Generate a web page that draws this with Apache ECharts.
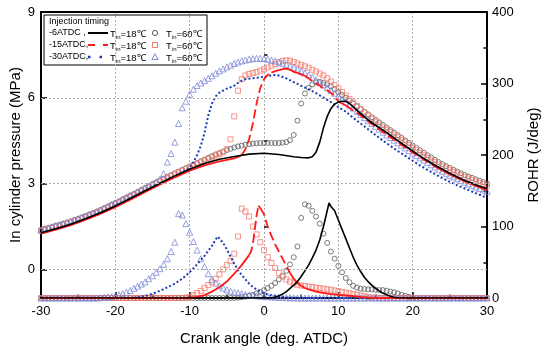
<!DOCTYPE html>
<html><head><meta charset="utf-8">
<script src="https://cdn.jsdelivr.net/npm/echarts@6/dist/echarts.min.js"></script>
<style>html,body{margin:0;padding:0;background:#fff}#c{width:541px;height:351px}</style>
</head><body><div id="c"></div><script>
// ---------- data ----------
const xTicks = [-30, -20, -10, 0, 10, 20, 30];
const pTicks = [0, 3, 6, 9];
const pMinorTicks = [1.5, 4.5, 7.5];
const legendTimings = ['-6ATDC ,', '-15ATDC,', '-30ATDC,'];
const legendT18 = '{a|T}{s|in}{a|=18℃}';
const legendT60 = '{a|T}{s|in}{a|=60℃}';

// marker series sampled every 0.5 deg from -30 to 30 (Tin = 60 C)
const markerAngles = [];
for (let i = 0; i <= 120; i++) markerAngles.push(-30 + i * 0.5);

const pCircle = [
1.38,1.42,1.45,1.49,1.53,1.56,1.6,1.64,1.68,1.73,
1.77,1.82,1.87,1.92,1.97,2.02,2.08,2.14,2.2,2.26,
2.32,2.38,2.45,2.51,2.58,2.64,2.71,2.78,2.84,2.91,
2.98,3.04,3.11,3.17,3.24,3.3,3.36,3.42,3.48,3.54,
3.6,3.66,3.72,3.78,3.84,3.9,3.96,4.02,4.07,4.12,
4.17,4.22,4.26,4.3,4.33,4.36,4.38,4.4,4.41,4.42,
4.42,4.42,4.42,4.42,4.42,4.43,4.45,4.52,4.7,5.2,
5.8,6.15,6.35,6.47,6.54,6.56,6.52,6.47,6.4,6.3,
6.2,6.1,6.0,5.9,5.8,5.7,5.6,5.51,5.42,5.32,
5.23,5.14,5.05,4.96,4.87,4.78,4.69,4.6,4.51,4.42,
4.33,4.25,4.16,4.08,3.99,3.91,3.83,3.75,3.68,3.61,
3.55,3.48,3.42,3.36,3.3,3.25,3.2,3.15,3.1,3.05,
3.0];
const pSquare = [
1.34,1.38,1.41,1.45,1.49,1.52,1.56,1.6,1.64,1.69,
1.73,1.78,1.83,1.88,1.93,1.98,2.04,2.1,2.16,2.22,
2.28,2.34,2.41,2.47,2.54,2.6,2.67,2.74,2.8,2.87,
2.94,3.0,3.07,3.13,3.2,3.26,3.32,3.38,3.44,3.5,
3.56,3.62,3.68,3.74,3.8,3.86,3.92,3.98,4.03,4.09,
4.2,4.55,5.35,6.25,6.65,6.78,6.83,6.87,6.9,6.95,
7.0,7.06,7.12,7.18,7.24,7.29,7.31,7.3,7.25,7.2,
7.15,7.1,7.05,6.98,6.92,6.85,6.78,6.68,6.57,6.45,
6.33,6.2,6.08,5.96,5.84,5.72,5.61,5.49,5.38,5.27,
5.16,5.06,4.97,4.88,4.8,4.71,4.62,4.53,4.44,4.35,
4.26,4.17,4.08,3.99,3.9,3.82,3.75,3.67,3.6,3.53,
3.47,3.41,3.35,3.29,3.23,3.18,3.13,3.08,3.03,2.98,
2.93];
const pTriangle = [
1.38,1.42,1.45,1.49,1.53,1.56,1.6,1.64,1.68,1.73,
1.77,1.82,1.87,1.92,1.97,2.02,2.08,2.14,2.2,2.26,
2.32,2.38,2.45,2.51,2.58,2.64,2.71,2.78,2.85,2.92,
2.99,3.06,3.15,3.35,3.75,4.05,4.45,5.1,5.65,5.88,
6.12,6.3,6.43,6.52,6.6,6.68,6.77,6.86,6.94,7.01,
7.08,7.14,7.2,7.25,7.29,7.32,7.35,7.37,7.38,7.38,
7.37,7.35,7.32,7.29,7.25,7.21,7.16,7.11,7.06,7.0,
6.94,6.87,6.8,6.72,6.63,6.54,6.45,6.36,6.26,6.16,
6.05,5.95,5.85,5.75,5.64,5.53,5.42,5.31,5.2,5.1,
5.0,4.9,4.8,4.7,4.61,4.52,4.43,4.34,4.25,4.16,
4.07,3.98,3.9,3.82,3.74,3.66,3.58,3.5,3.43,3.36,
3.29,3.23,3.17,3.11,3.05,2.99,2.94,2.88,2.83,2.78,
2.73];
const rCircle = [
0,0,0,0,0,0,0,0,0,0,
0,0,0,0,0,0,0,0,0,0,
0,0,0,0,0,0,0,0,0,0,
0,0,0,0,0,0,0,0,0,0,
0,0,0,0,0,0,0,0,0,0,
0,0,0,0.5,1,2,3,4.5,6.5,8.5,
11,14,17,21,26,31,38,47,57,72,
112,131,129,122,114,104,90,77,65,55,
45,36,28,22,17,14.5,13,12.5,12,12,
11.5,11,11,10,9,8,6.5,4.5,3,1.5,
0.5,0,0,0,0,0,0,0,0,0,
0,0,0,0,0,0,0,0,0,0,
0];
const rSquare = [
0,0,0,0,0,0,0,0,0,0,
0,0,0,0,0,0,0,0,0,0,
0,0,0,0,0,0,0,0,0,0,
0,0,0,0,0,0,0,0,0,0.5,
1.5,4,7,10,14,18,22,27,33,40,
46,52,62,86,125,121,114,100,89,78,
67,57,49,42,35,30,26,23,20.5,18.5,
17.5,16.8,16,15.3,14.5,13.8,13,12.2,11.5,10.5,
9.5,8.5,7.5,6.5,5.5,4.5,3.5,2.5,1.5,0.8,
0.3,0,0,0,0,0,0,0,0,0,
0,0,0,0,0,0,0,0,0,0,
0,0,0,0,0,0,0,0,0,0,
0];
const rTriangle = [
0,0,0,0,0,0,0,0,0,0,
0,0,0,0,0,0,0.5,1,1.5,2,
3,4.5,6,8,10.5,13.5,16.5,19.5,22.5,27,
31,36,41,47,55,65,78,118,116,104,
92,79,67,55,44,34,26,21,17,14,
11.5,9.5,8,7,6,5,4.2,3.6,3,2.6,
2.2,1.8,1.5,1.2,0.9,0.7,0.5,0.3,0.2,0,
0,0,0,0,0,0,0,0,0,0,
0,0,0,0,0,0,0,0,0,0,
0,0,0,0,0,0,0,0,0,0,
0,0,0,0,0,0,0,0,0,0,
0,0,0,0,0,0,0,0,0,0,
0];

// line series (Tin = 18 C)
const pLineBlackX = [-30,-28,-26,-24,-22,-20,-18,-16,-14,-12,-10,-8,-6,-4,-2,0,2,4,5,6,6.5,7,7.5,8,8.5,9,9.5,10,10.5,11,11.5,12,13,14,15,16,17,18,19,20,21,22,23,24,25,26,27,28,29,30];
const pLineBlack = [1.28,1.42,1.58,1.77,1.98,2.22,2.48,2.75,3.01,3.27,3.5,3.7,3.85,3.95,4.03,4.06,4.02,3.94,3.91,3.9,3.94,4.1,4.45,4.95,5.35,5.62,5.78,5.85,5.88,5.88,5.8,5.68,5.45,5.23,5.04,4.87,4.69,4.5,4.32,4.14,3.96,3.8,3.64,3.5,3.36,3.23,3.11,3.01,2.91,2.82];
const pLineRedX = [-30,-28,-26,-24,-22,-20,-18,-16,-14,-12,-10,-8,-6,-5,-4,-3.5,-3,-2.5,-2,-1.5,-1,-0.5,0,0.5,1,1.5,2,2.5,3,3.5,4,4.5,5,5.5,6,6.5,7,7.5,8,8.5,9,9.5,10,10.5,11,12,13,14,15,16,17,18,19,20,21,22,23,24,25,26,27,28,29,30];
const pLineRed = [1.25,1.39,1.55,1.74,1.95,2.18,2.44,2.71,2.97,3.22,3.45,3.64,3.78,3.83,3.88,3.93,4.0,4.2,4.55,5.1,5.8,6.35,6.65,6.8,6.88,6.93,6.97,7.0,7.02,6.98,6.91,6.87,6.82,6.77,6.68,6.58,6.5,6.42,6.34,6.26,6.18,6.05,5.87,5.8,5.73,5.56,5.38,5.18,4.99,4.8,4.62,4.44,4.26,4.09,3.92,3.76,3.6,3.46,3.32,3.2,3.08,2.97,2.87,2.77];
const pLineBlueX = [-30,-28,-26,-24,-22,-20,-18,-16,-14,-12,-10,-9.5,-9,-8.5,-8,-7.5,-7,-6.5,-6,-5.5,-5,-4.5,-4,-3.5,-3,-2.5,-2,-1,0,1,1.5,2,3,4,5,6,7,8,9,10,11,12,13,14,15,16,17,18,19,20,21,22,23,24,25,26,27,28,29,30];
const pLineBlue = [1.27,1.41,1.57,1.76,1.97,2.2,2.46,2.73,2.99,3.25,3.55,3.75,4.0,4.32,4.78,5.38,5.8,6.05,6.18,6.25,6.32,6.37,6.42,6.52,6.6,6.65,6.67,6.7,6.74,6.78,6.8,6.78,6.68,6.55,6.42,6.3,6.16,6.01,5.85,5.67,5.52,5.3,5.1,4.9,4.7,4.5,4.32,4.14,3.97,3.8,3.63,3.48,3.33,3.19,3.06,2.94,2.83,2.72,2.61,2.5];

const rLineBlackX = [-30,0,1,1.5,2,2.5,3,3.5,4,4.5,5,5.5,6,6.5,7,7.5,8,8.5,8.75,9,9.5,10,10.5,11,11.5,12,12.5,13,13.5,14,14.5,15,15.5,16,16.5,17,17.5,18,19,30];
const rLineBlack = [0,0,0,1,3,5.5,9,13.5,18,23,30,38,46,56,67,81,100,122,133,128,122,109,96,83,70,57,46,37,29,23,18,13.5,10,6.5,4.5,2.5,1,0.3,0,0];
const rLineRedX = [-30,-11,-10,-9,-8,-7,-6,-5,-4,-3,-2.5,-2,-1.75,-1.5,-1.25,-1,-0.75,-0.5,0,0.5,1,1.5,2,2.5,3,3.5,4,4.5,5,5.5,6,7,8,9,10,11,12,13,14,15,16,30];
const rLineRed = [0,0,0.5,1.5,4,9,15,23,34,46,53,60,65,75,95,115,129,126,117,100,87,75,65,55,45,35,27,21,17,14,12,9,7,5.5,4.5,3.5,2.5,1.5,0.8,0.3,0,0];
const rLineBlueX = [-30,-18,-17,-16,-15,-14,-13,-12,-11,-10,-9,-8,-7,-6.5,-6.2,-6,-5.5,-5,-4.5,-4,-3.5,-3,-2.5,-2,-1.5,-1,-0.5,0,0.5,1,2,3,4,5,30];
const rLineBlue = [0,0,1,3,6,10,15,20,27,36,47,59,73,82,86,85,77,68,58,48,39,32,26,20,15.5,12,9,7,5,3.5,2,1,0.4,0,0];

// ---------- styling ----------
const FONT = 'Liberation Sans, Arial, sans-serif';
const C_BLACK = '#000000', C_CIRCLE = '#5a5a5a';
const C_RED = '#ff1a1a', C_SQUARE = '#f47a6e';
const C_BLUE = '#1c3cb8', C_TRI = '#7d88d6';

const zip = (xs, ys) => xs.map((x, i) => [x, ys[i]]);
const mk = ys => markerAngles.map((a, i) => [a, ys[i]]);

// Split a curve into solid / dashed pieces: steep segments are drawn dashed (as in the source plot)
function splitDash(xs, ys, ratio, thr) {
  const solid = [], dashed = [];
  for (let i = 0; i < xs.length - 1; i++) {
    const s = Math.abs((ys[i + 1] - ys[i]) / (xs[i + 1] - xs[i])) * ratio;
    const tgt = s > thr ? dashed : solid;
    const last = tgt[tgt.length - 1];
    if (!(last && last[0] === xs[i] && last[1] === ys[i])) {
      if (tgt.length) tgt.push([xs[i], '-']);
      tgt.push([xs[i], ys[i]]);
    }
    tgt.push([xs[i + 1], ys[i + 1]]);
  }
  return { solid, dashed };
}
const kx = 446 / 60, kp = 286 / 10, kr = 286 / 400;
const redP = splitDash(pLineRedX, pLineRed, kp / kx, 0.55);
const redR = splitDash(rLineRedX, rLineRed, kr / kx, 1.7);

function scatter(name, data, yi, symbol, size, color) {
  return { name, type: 'scatter', yAxisIndex: yi, data, symbol, symbolSize: size,
    itemStyle: { color: 'rgba(0,0,0,0)', borderColor: color, borderWidth: 1 }, silent: true, z: 2 };
}
function line(name, data, yi, color, width, type) {
  return { name, type: 'line', yAxisIndex: yi, data, symbol: 'none', showSymbol: false,
    lineStyle: { color, width, type, cap: 'butt' }, silent: true, z: 3, connectNulls: false };
}

const series = [
  scatter('c60p', mk(pCircle), 0, 'circle', 5, C_CIRCLE),
  scatter('s60p', mk(pSquare), 0, 'rect', 5, C_SQUARE),
  scatter('t60p', mk(pTriangle), 0, 'triangle', 6, C_TRI),
  scatter('c60r', mk(rCircle), 1, 'circle', 5, C_CIRCLE),
  scatter('s60r', mk(rSquare), 1, 'rect', 5, C_SQUARE),
  scatter('t60r', mk(rTriangle), 1, 'triangle', 6, C_TRI),
  line('blueP', zip(pLineBlueX, pLineBlue), 0, C_BLUE, 2, [2, 2.2]),
  line('blueR', zip(rLineBlueX, rLineBlue), 1, C_BLUE, 2, [2, 2.2]),
  line('redPs', redP.solid, 0, C_RED, 1.8, 'solid'),
  line('redPd', redP.dashed, 0, C_RED, 1.8, [9, 4]),
  line('redRs', redR.solid, 1, C_RED, 1.8, 'solid'),
  line('redRd', redR.dashed, 1, C_RED, 1.8, [9, 4]),
  line('blackP', zip(pLineBlackX, pLineBlack), 0, C_BLACK, 1.6, 'solid'),
  line('blackR', zip(rLineBlackX, rLineBlack), 1, C_BLACK, 1.6, 'solid')
];
// horizontal grid lines at pressure ticks 0, 3, 6
series.push({ type: 'line', yAxisIndex: 0, data: [], silent: true,
  markLine: { silent: true, symbol: 'none', label: { show: false }, animation: false,
    lineStyle: { color: '#aaaaaa', type: [2, 2], width: 1 },
    data: pTicks.filter(v => v < 9).map(v => ({ yAxis: v })) } });

// ---------- legend (drawn) ----------
const LG = { x: 44, y: 15, w: 163, h: 50 };
const rowsY = [33, 45, 57];
const legendEls = [
  { type: 'rect', shape: { x: LG.x, y: LG.y, width: LG.w, height: LG.h }, style: { fill: '#fff', stroke: '#000', lineWidth: 1 } },
  { type: 'text', x: 49, y: 22, style: { text: 'Injection timing', font: '9px ' + FONT, fill: '#000', verticalAlign: 'middle' } }
];
const lineStyles = [
  { stroke: C_BLACK, lineWidth: 2 },
  { stroke: C_RED, lineWidth: 2, lineDash: [7, 8] },
  { stroke: C_BLUE, lineWidth: 2.5, lineDash: [2.5, 9] }
];
const rich = {
  a: { fontSize: 9.5, fontFamily: FONT, color: '#000', lineHeight: 12, verticalAlign: 'middle' },
  s: { fontSize: 6, fontFamily: FONT, color: '#000', lineHeight: 12, verticalAlign: 'bottom' }
};
rowsY.forEach((y, i) => {
  legendEls.push({ type: 'text', x: 49, y, style: { text: legendTimings[i], font: '9px ' + FONT, fill: '#000', verticalAlign: 'middle' } });
  legendEls.push({ type: 'line', shape: { x1: 88, y1: y, x2: 108, y2: y }, style: lineStyles[i] });
  legendEls.push({ type: 'text', x: 110, y: y + 1, style: { text: legendT18, rich, verticalAlign: 'middle' } });
  legendEls.push({ type: 'text', x: 166, y: y + 1, style: { text: legendT60, rich, verticalAlign: 'middle' } });
});
legendEls.push({ type: 'circle', shape: { cx: 155, cy: rowsY[0], r: 2.6 }, style: { fill: 'none', stroke: C_CIRCLE, lineWidth: 1 } });
legendEls.push({ type: 'rect', shape: { x: 152.5, y: rowsY[1] - 2.5, width: 5, height: 5 }, style: { fill: 'none', stroke: C_SQUARE, lineWidth: 1 } });
legendEls.push({ type: 'polygon', shape: { points: [[155, rowsY[2] - 3.2], [158.2, rowsY[2] + 2.5], [151.8, rowsY[2] + 2.5]] }, style: { fill: 'none', stroke: C_TRI, lineWidth: 1 } });

// ---------- chart ----------
const axisLine = { show: true, onZero: false, lineStyle: { color: '#000', width: 2 } };
const labelStyle = { color: '#000', fontSize: 13, fontFamily: FONT };
const chart = echarts.init(document.getElementById('c'), null, { renderer: 'canvas' });
chart.setOption({
  animation: false,
  backgroundColor: '#fff',
  grid: { left: 41, right: 54, top: 12, bottom: 53, containLabel: false, outerBoundsMode: 'none' },
  xAxis: [{
    type: 'value', min: -30, max: 30, interval: 10, position: 'bottom',
    name: 'Crank angle (deg. ATDC)', nameLocation: 'middle', nameGap: 33,
    nameTextStyle: { color: '#000', fontSize: 15, fontFamily: FONT },
    axisLine, axisLabel: Object.assign({ margin: 7 }, labelStyle),
    axisTick: { show: true, inside: true, length: 6, lineStyle: { color: '#000', width: 1.5 } },
    minorTick: { show: true, splitNumber: 2, length: 3.5, lineStyle: { color: '#000', width: 1.5 } },
    splitLine: { show: true, lineStyle: { color: '#aaaaaa', type: [2, 2], width: 1 } }
  }, {
    type: 'value', min: -30, max: 30, interval: 10, position: 'top',
    axisLine, axisLabel: { show: false }, axisTick: { show: false }, splitLine: { show: false }
  }],
  yAxis: [{
    type: 'value', min: -1, max: 9, position: 'left',
    name: 'In cylinder pressure (MPa)', nameLocation: 'middle', nameGap: 18, nameRotate: 90,
    nameMoveOverlap: false,
    nameTextStyle: { color: '#000', fontSize: 15, fontFamily: FONT },
    axisLine, axisLabel: Object.assign({ margin: 6, customValues: pTicks }, labelStyle),
    axisTick: { show: true, inside: true, length: 6, customValues: pTicks, lineStyle: { color: '#000', width: 1.5 } },
    splitLine: { show: false }
  }, {
    type: 'value', min: 0, max: 400, interval: 100, position: 'right',
    name: 'ROHR (J/deg)', nameLocation: 'middle', nameGap: 39, nameRotate: 90,
    nameMoveOverlap: false,
    nameTextStyle: { color: '#000', fontSize: 15, fontFamily: FONT },
    axisLine, axisLabel: Object.assign({ margin: 5 }, labelStyle),
    axisTick: { show: true, inside: true, length: 6, lineStyle: { color: '#000', width: 1.5 } },
    minorTick: { show: true, splitNumber: 2, length: 3.5, lineStyle: { color: '#000', width: 1.5 } },
    splitLine: { show: false }
  }, {
    type: 'value', min: -1, max: 9, position: 'left',
    axisLine: { show: false }, axisLabel: { show: false, customValues: [] },
    axisTick: { show: true, inside: true, length: 3.5, customValues: pMinorTicks, lineStyle: { color: '#000', width: 1.5 } },
    splitLine: { show: false }
  }],
  series,
  graphic: { elements: [{ type: 'group', z: 100, children: legendEls }] }
});
</script></body></html>
